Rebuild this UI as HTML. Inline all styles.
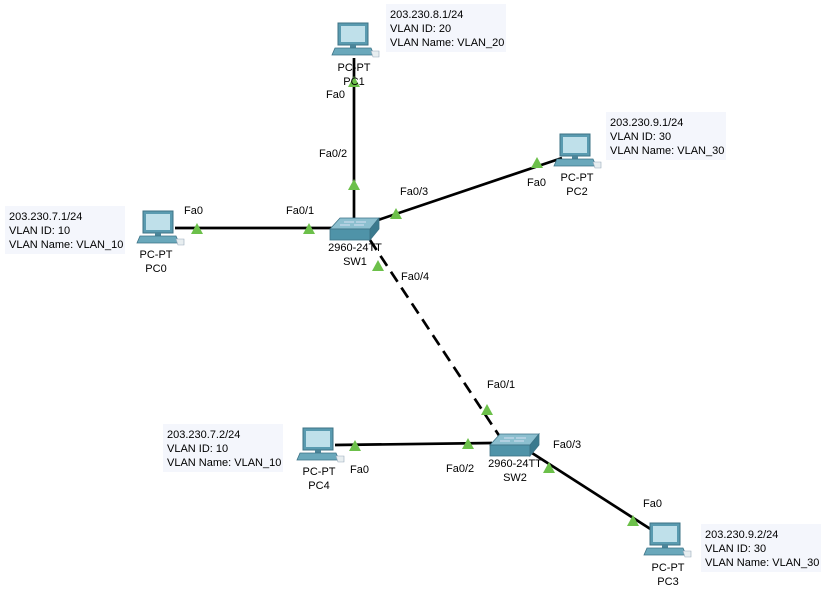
<!DOCTYPE html>
<html><head><meta charset="utf-8"><style>
body{margin:0;background:#fff;}
svg{display:block;font-family:"Liberation Sans",sans-serif;font-size:11px;}
</style></head><body>
<svg width="824" height="596" viewBox="0 0 824 596" xmlns="http://www.w3.org/2000/svg">
<defs>
<g id="pc">
  <rect x="0" y="0" width="30" height="22" fill="#5a9bb0" stroke="#3d7386" stroke-width="1"/>
  <rect x="3" y="3" width="24" height="16" fill="#bfe0ea"/>
  <rect x="12" y="22" width="6" height="3" fill="#4b8599"/>
  <polygon points="-3,25 33,25 36,32 -6,32" fill="#6aa8bb" stroke="#3d7386" stroke-width="0.8"/>
  <polygon points="33,28 41,28 41,34 35,34" fill="#e8eef0" stroke="#9ab" stroke-width="0.6"/>
</g>
<g id="sw">
  <polygon points="10,0 49,0 40,11 0,11" fill="#8cbfcf" stroke="#3d7386" stroke-width="0.8"/>
  <rect x="0" y="11" width="40" height="11" fill="#4f93a8" stroke="#3d7386" stroke-width="0.8"/>
  <polygon points="40,11 49,0 49,11 40,22" fill="#3b7a8e" stroke="#3d7386" stroke-width="0.8"/>
  <path d="M14,4 h10 M26,4 h10 M10,7 h10 M24,7 h10" stroke="#eef" stroke-width="0.8"/>
</g>
<polygon id="tri" points="0,-6 6,5 -6,5" fill="#6cc04a"/>
</defs>

<g stroke="#000" stroke-width="2.7" fill="none">
<line x1="175" y1="228" x2="332" y2="228"/>
<line x1="354" y1="58" x2="354" y2="218"/>
<line x1="378" y1="220" x2="562" y2="158"/>
<line x1="370" y1="240" x2="500" y2="437" stroke-dasharray="12,7"/>
<line x1="335" y1="445" x2="492" y2="443"/>
<line x1="532" y1="453" x2="652" y2="530"/>
</g>

<use href="#pc" x="143" y="211"/>
<use href="#pc" x="338" y="23"/>
<use href="#pc" x="560" y="134"/>
<use href="#pc" x="303" y="428"/>
<use href="#pc" x="650" y="523"/>
<use href="#sw" x="330" y="218"/>
<use href="#sw" x="490" y="434"/>

<use href="#tri" x="197" y="229"/>
<use href="#tri" x="309" y="229"/>
<use href="#tri" x="354" y="82"/>
<use href="#tri" x="354" y="185"/>
<use href="#tri" x="396" y="214"/>
<use href="#tri" x="537" y="163"/>
<use href="#tri" x="378" y="266"/>
<use href="#tri" x="487" y="410"/>
<use href="#tri" x="355" y="446"/>
<use href="#tri" x="468" y="444"/>
<use href="#tri" x="549" y="468"/>
<use href="#tri" x="633" y="521"/>

<g fill="#f4f6fc">
<rect x="386" y="4" width="120" height="48"/>
<rect x="606" y="112" width="120" height="48"/>
<rect x="5" y="206" width="120" height="48"/>
<rect x="163" y="424" width="120" height="48"/>
<rect x="701" y="524" width="120" height="48"/>
</g>
<g fill="#000">
<text x="390" y="18">203.230.8.1/24</text><text x="390" y="32">VLAN ID: 20</text><text x="390" y="46">VLAN Name: VLAN_20</text>
<text x="610" y="126">203.230.9.1/24</text><text x="610" y="140">VLAN ID: 30</text><text x="610" y="154">VLAN Name: VLAN_30</text>
<text x="9" y="220">203.230.7.1/24</text><text x="9" y="234">VLAN ID: 10</text><text x="9" y="248">VLAN Name: VLAN_10</text>
<text x="167" y="438">203.230.7.2/24</text><text x="167" y="452">VLAN ID: 10</text><text x="167" y="466">VLAN Name: VLAN_10</text>
<text x="705" y="538">203.230.9.2/24</text><text x="705" y="552">VLAN ID: 30</text><text x="705" y="566">VLAN Name: VLAN_30</text>
</g>

<g text-anchor="middle">
<text x="156" y="258">PC-PT</text><text x="156" y="272">PC0</text>
<text x="354" y="71">PC-PT</text><text x="354" y="85">PC1</text>
<text x="577" y="181">PC-PT</text><text x="577" y="195">PC2</text>
<text x="319" y="475">PC-PT</text><text x="319" y="489">PC4</text>
<text x="668" y="571">PC-PT</text><text x="668" y="585">PC3</text>
<text x="355" y="251">2960-24TT</text><text x="355" y="265">SW1</text>
<text x="515" y="467">2960-24TT</text><text x="515" y="481">SW2</text>
</g>

<g>
<text x="184" y="214">Fa0</text>
<text x="286" y="214">Fa0/1</text>
<text x="326" y="98">Fa0</text>
<text x="319" y="157">Fa0/2</text>
<text x="400" y="195">Fa0/3</text>
<text x="527" y="186">Fa0</text>
<text x="401" y="280">Fa0/4</text>
<text x="487" y="388">Fa0/1</text>
<text x="350" y="473">Fa0</text>
<text x="446" y="472">Fa0/2</text>
<text x="553" y="448">Fa0/3</text>
<text x="643" y="507">Fa0</text>
</g>
</svg>
</body></html>
